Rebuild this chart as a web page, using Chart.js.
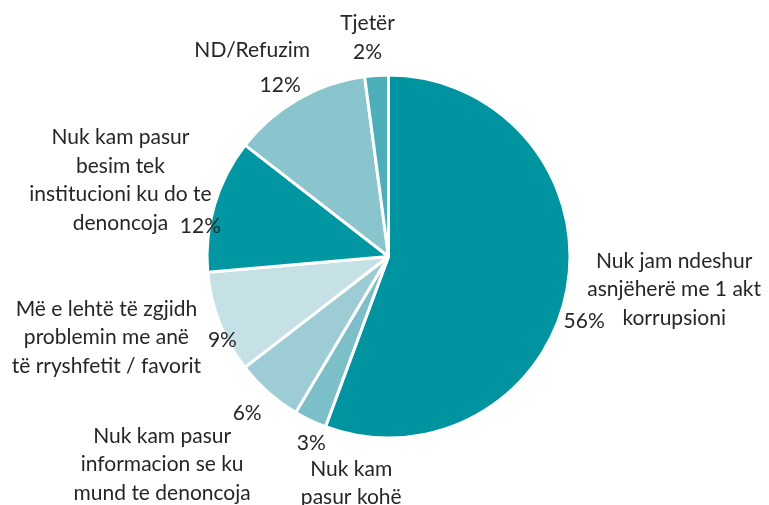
<!DOCTYPE html>
<html>
<head>
<meta charset="utf-8">
<script src="https://cdn.jsdelivr.net/npm/chart.js@4.4.1/dist/chart.umd.min.js"></script>
<style>
  html, body { margin: 0; padding: 0; background: #fff; }
  #wrap { width: 769px; height: 505px; position: relative; }
</style>
</head>
<body>
<div id="wrap"><canvas id="pieCanvas"></canvas></div>
<script>
// categories, clockwise from 12 o'clock (each entry = wrapped label lines)
const categories = [
  ['Nuk jam ndeshur', 'asnjëherë me 1 akt', 'korrupsioni'],
  ['Nuk kam', 'pasur kohë'],
  ['Nuk kam pasur', 'informacion se ku', 'mund te denoncoja'],
  ['Më e lehtë të zgjidh', 'problemin me anë', 'të rryshfetit / favorit'],
  ['Nuk kam pasur', 'besim tek', 'institucioni ku do te', 'denoncoja'],
  ['ND/Refuzim'],
  ['Tjetër'],
];
const values = [55.7, 2.9, 6.0, 9.1, 11.9, 12.4, 2.1];
const sliceColors = ['#0094a0', '#7dbfc8', '#9dccd4', '#c6e1e6', '#0097a3', '#8ac4cd', '#4baeb9'];

// label placement relative to the slice's outer edge at its mid angle
const labelOffsets = [
  { nx: 107, ny: 1, px: 17, py: 33 },
  { nx: 41, ny: 63, px: 1, py: 23 },
  { nx: -106, ny: 72, px: -21, py: 21 },
  { nx: -113, ny: 15, px: 3, py: 18 },
  { nx: -94, ny: -25, px: -14, py: 21 },
  { nx: -46, ny: -49, px: -18, py: -14 },
  { nx: -9, ny: -52, px: -9, py: -23 },
];

const LINE_H = 28.5;

const outsideLabels = {
  id: 'outsideLabels',
  afterDatasetsDraw(chart) {
    const ctx = chart.ctx;
    const meta = chart.getDatasetMeta(0);
    ctx.save();
    ctx.font = '21px Lato';
    ctx.fillStyle = '#262626';
    ctx.textAlign = 'center';
    ctx.textBaseline = 'middle';
    meta.data.forEach((arc, i) => {
      const p = arc.getProps(['x', 'y', 'startAngle', 'endAngle', 'outerRadius'], true);
      const mid = (p.startAngle + p.endAngle) / 2;
      const ex = p.x + Math.cos(mid) * p.outerRadius;
      const ey = p.y + Math.sin(mid) * p.outerRadius;
      const off = labelOffsets[i];
      const lines = categories[i];
      const top = ey + off.ny - (lines.length - 1) * LINE_H / 2;
      lines.forEach((ln, k) => ctx.fillText(ln, ex + off.nx, top + k * LINE_H));
      ctx.fillText(Math.round(values[i]) + '%', ex + off.px, ey + off.py);
    });
    ctx.restore();
  }
};

new Chart(document.getElementById('pieCanvas'), {
  type: 'pie',
  data: {
    labels: categories.map(c => c.join(' ')),
    datasets: [{
      data: values,
      backgroundColor: sliceColors,
      borderColor: '#ffffff',
      borderWidth: 3,
      radius: 181.5,
    }],
  },
  options: {
    responsive: true,
    maintainAspectRatio: false,
    animation: false,
    layout: { padding: { left: 8, right: 0, top: 8, bottom: 0 } },
    plugins: {
      legend: { display: false },
      tooltip: { enabled: false },
    },
  },
  plugins: [outsideLabels],
});
</script>
</body>
</html>
